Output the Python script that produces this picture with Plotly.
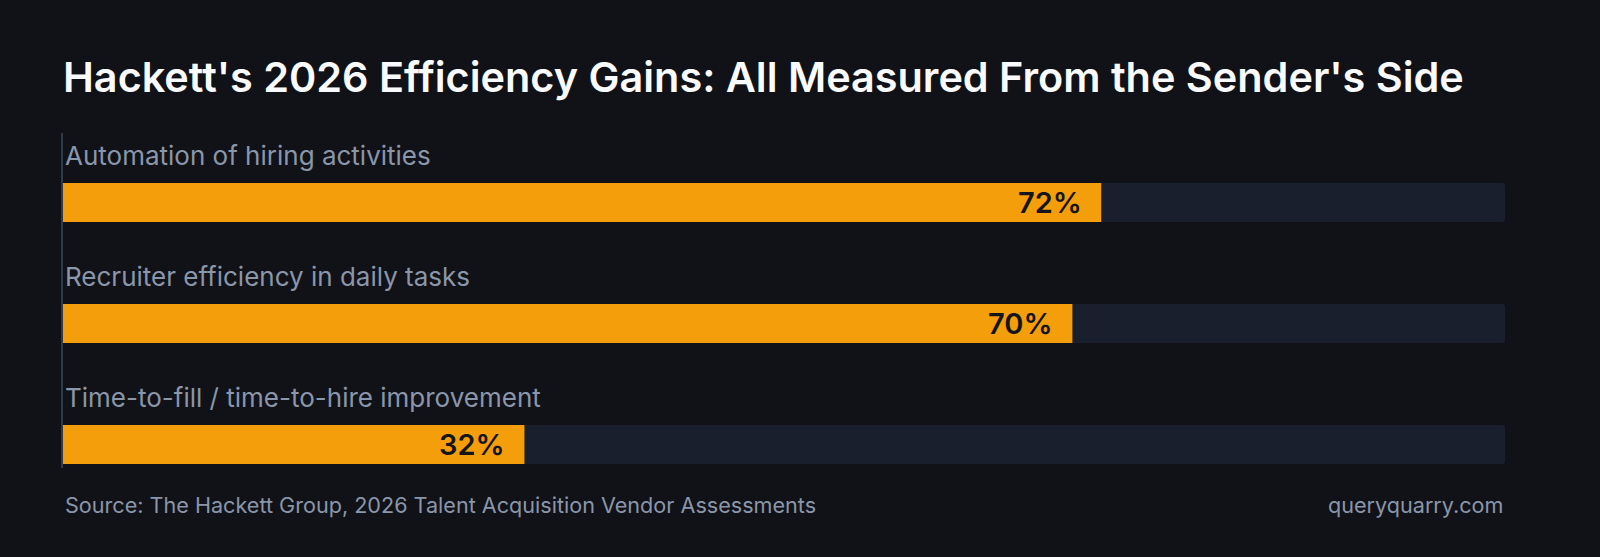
import plotly.graph_objects as go

categories = ["Automation of hiring activities",
              "Recruiter efficiency in daily tasks",
              "Time-to-fill / time-to-hire improvement"]
values = [72, 70, 32]
value_labels = ["72%", "70%", "32%"]
track_max = [100, 100, 100]

rows = list(range(len(categories)))

BG = "#111217"
TRACK = "#1a1f2e"
BAR = "#f59e0b"
MUTED = "#8a96aa"

fig = go.Figure()
fig.add_trace(go.Bar(x=track_max, y=rows, orientation="h", width=0.322,
                     marker=dict(color=TRACK, line=dict(width=0)),
                     hoverinfo="skip", showlegend=False))
fig.add_trace(go.Bar(x=values, y=rows, orientation="h", width=0.322,
                     marker=dict(color=BAR, line=dict(width=0)),
                     showlegend=False))

# category labels above each bar
for r, c in zip(rows, categories):
    fig.add_annotation(x=0, y=r, xref="x", yref="y", text=c, showarrow=False,
                       xanchor="left", yanchor="middle", yshift=47,
                       font=dict(family="Inter", size=26, color=MUTED))

# value labels inside the bar end
for r, v, t in zip(rows, values, value_labels):
    fig.add_annotation(x=v, y=r, xref="x", yref="y", text=t, showarrow=False,
                       xanchor="right", yanchor="middle", xshift=-17,
                       font=dict(family="Inter", size=29, color="#15161a", weight=600))

fig.add_annotation(x=0, y=0, xref="paper", yref="paper", showarrow=False,
                   text="Source: The Hackett Group, 2026 Talent Acquisition Vendor Assessments",
                   xanchor="left", yanchor="middle", yshift=-37,
                   font=dict(family="Inter", size=21.6, color=MUTED))
fig.add_annotation(x=1, y=0, xref="paper", yref="paper", showarrow=False,
                   text="queryquarry.com", xanchor="right", yanchor="middle", yshift=-37,
                   font=dict(family="Inter", size=21.6, color=MUTED))

fig.update_layout(
    width=1600, height=557,
    margin=dict(l=63, r=95, t=133, b=89),
    paper_bgcolor=BG, plot_bgcolor=BG,
    barmode="overlay", barcornerradius=3,
    title=dict(text="Hackett's 2026 Efficiency Gains: All Measured From the Sender's Side",
               x=63 / 1600, xanchor="left", y=1 - 78 / 557, yanchor="middle",
               font=dict(family="Inter", size=41.4, color="#f8fafc", weight=600)),
    xaxis=dict(range=[0, 100], visible=False, fixedrange=True),
    yaxis=dict(range=[2.194, -0.574], showticklabels=False, showgrid=False,
               zeroline=False, showline=True, linecolor="#2f3a4d", linewidth=2,
               fixedrange=True),
)

fig.write_html("out.html", config={"displayModeBar": False},
               post_script="document.body.style.margin='0';")
